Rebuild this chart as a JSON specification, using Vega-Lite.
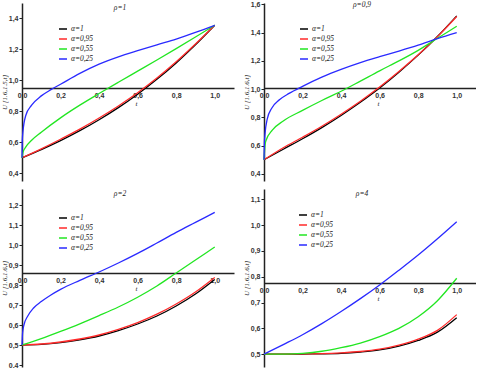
{
  "$schema": "https://vega.github.io/schema/vega-lite/v6.json",
  "padding": {"left": 0, "top": 0, "right": 0, "bottom": 0},
  "background": "white",
  "datasets": {
    "d": [
      {"p": 1, "a": "α=1", "t": 0, "u": 0.5}, {"p": 1, "a": "α=1", "t": 0.1, "u": 0.553}, {"p": 1, "a": "α=1", "t": 0.2, "u": 0.611}, {"p": 1, "a": "α=1", "t": 0.3, "u": 0.675}, {"p": 1, "a": "α=1", "t": 0.4, "u": 0.746}, {"p": 1, "a": "α=1", "t": 0.5, "u": 0.824}, {"p": 1, "a": "α=1", "t": 0.6, "u": 0.911}, {"p": 1, "a": "α=1", "t": 0.7, "u": 1.007}, {"p": 1, "a": "α=1", "t": 0.8, "u": 1.113}, {"p": 1, "a": "α=1", "t": 0.9, "u": 1.23}, {"p": 1, "a": "α=1", "t": 1.0, "u": 1.356},
      {"p": 1, "a": "α=0,95", "t": 0, "u": 0.5}, {"p": 1, "a": "α=0,95", "t": 0.1, "u": 0.558}, {"p": 1, "a": "α=0,95", "t": 0.2, "u": 0.62}, {"p": 1, "a": "α=0,95", "t": 0.3, "u": 0.685}, {"p": 1, "a": "α=0,95", "t": 0.4, "u": 0.757}, {"p": 1, "a": "α=0,95", "t": 0.5, "u": 0.835}, {"p": 1, "a": "α=0,95", "t": 0.6, "u": 0.92}, {"p": 1, "a": "α=0,95", "t": 0.7, "u": 1.015}, {"p": 1, "a": "α=0,95", "t": 0.8, "u": 1.12}, {"p": 1, "a": "α=0,95", "t": 0.9, "u": 1.235}, {"p": 1, "a": "α=0,95", "t": 1.0, "u": 1.356},
      {"p": 1, "a": "α=0,55", "t": 0, "u": 0.5}, {"p": 1, "a": "α=0,55", "t": 0.005, "u": 0.535}, {"p": 1, "a": "α=0,55", "t": 0.02, "u": 0.57}, {"p": 1, "a": "α=0,55", "t": 0.05, "u": 0.613}, {"p": 1, "a": "α=0,55", "t": 0.1, "u": 0.665}, {"p": 1, "a": "α=0,55", "t": 0.2, "u": 0.758}, {"p": 1, "a": "α=0,55", "t": 0.3, "u": 0.84}, {"p": 1, "a": "α=0,55", "t": 0.4, "u": 0.915}, {"p": 1, "a": "α=0,55", "t": 0.5, "u": 0.988}, {"p": 1, "a": "α=0,55", "t": 0.6, "u": 1.06}, {"p": 1, "a": "α=0,55", "t": 0.7, "u": 1.132}, {"p": 1, "a": "α=0,55", "t": 0.8, "u": 1.205}, {"p": 1, "a": "α=0,55", "t": 0.9, "u": 1.28}, {"p": 1, "a": "α=0,55", "t": 1.0, "u": 1.356},
      {"p": 1, "a": "α=0,25", "t": 0, "u": 0.5}, {"p": 1, "a": "α=0,25", "t": 0.001, "u": 0.6}, {"p": 1, "a": "α=0,25", "t": 0.005, "u": 0.67}, {"p": 1, "a": "α=0,25", "t": 0.02, "u": 0.775}, {"p": 1, "a": "α=0,25", "t": 0.05, "u": 0.84}, {"p": 1, "a": "α=0,25", "t": 0.1, "u": 0.9}, {"p": 1, "a": "α=0,25", "t": 0.15, "u": 0.94}, {"p": 1, "a": "α=0,25", "t": 0.2, "u": 0.975}, {"p": 1, "a": "α=0,25", "t": 0.3, "u": 1.045}, {"p": 1, "a": "α=0,25", "t": 0.4, "u": 1.105}, {"p": 1, "a": "α=0,25", "t": 0.5, "u": 1.152}, {"p": 1, "a": "α=0,25", "t": 0.6, "u": 1.192}, {"p": 1, "a": "α=0,25", "t": 0.7, "u": 1.23}, {"p": 1, "a": "α=0,25", "t": 0.8, "u": 1.267}, {"p": 1, "a": "α=0,25", "t": 0.9, "u": 1.31}, {"p": 1, "a": "α=0,25", "t": 1.0, "u": 1.356},

      {"p": 0.9, "a": "α=1", "t": 0, "u": 0.5}, {"p": 0.9, "a": "α=1", "t": 0.1, "u": 0.575}, {"p": 0.9, "a": "α=1", "t": 0.2, "u": 0.649}, {"p": 0.9, "a": "α=1", "t": 0.3, "u": 0.728}, {"p": 0.9, "a": "α=1", "t": 0.4, "u": 0.814}, {"p": 0.9, "a": "α=1", "t": 0.5, "u": 0.907}, {"p": 0.9, "a": "α=1", "t": 0.6, "u": 1.008}, {"p": 0.9, "a": "α=1", "t": 0.7, "u": 1.12}, {"p": 0.9, "a": "α=1", "t": 0.8, "u": 1.241}, {"p": 0.9, "a": "α=1", "t": 0.9, "u": 1.373}, {"p": 0.9, "a": "α=1", "t": 1.0, "u": 1.519},
      {"p": 0.9, "a": "α=0,95", "t": 0, "u": 0.5}, {"p": 0.9, "a": "α=0,95", "t": 0.1, "u": 0.585}, {"p": 0.9, "a": "α=0,95", "t": 0.2, "u": 0.66}, {"p": 0.9, "a": "α=0,95", "t": 0.3, "u": 0.738}, {"p": 0.9, "a": "α=0,95", "t": 0.4, "u": 0.823}, {"p": 0.9, "a": "α=0,95", "t": 0.5, "u": 0.915}, {"p": 0.9, "a": "α=0,95", "t": 0.6, "u": 1.015}, {"p": 0.9, "a": "α=0,95", "t": 0.7, "u": 1.125}, {"p": 0.9, "a": "α=0,95", "t": 0.8, "u": 1.243}, {"p": 0.9, "a": "α=0,95", "t": 0.9, "u": 1.372}, {"p": 0.9, "a": "α=0,95", "t": 1.0, "u": 1.515},
      {"p": 0.9, "a": "α=0,55", "t": 0, "u": 0.5}, {"p": 0.9, "a": "α=0,55", "t": 0.005, "u": 0.6}, {"p": 0.9, "a": "α=0,55", "t": 0.01, "u": 0.635}, {"p": 0.9, "a": "α=0,55", "t": 0.043, "u": 0.71}, {"p": 0.9, "a": "α=0,55", "t": 0.1, "u": 0.775}, {"p": 0.9, "a": "α=0,55", "t": 0.2, "u": 0.85}, {"p": 0.9, "a": "α=0,55", "t": 0.3, "u": 0.92}, {"p": 0.9, "a": "α=0,55", "t": 0.4, "u": 0.985}, {"p": 0.9, "a": "α=0,55", "t": 0.5, "u": 1.057}, {"p": 0.9, "a": "α=0,55", "t": 0.6, "u": 1.13}, {"p": 0.9, "a": "α=0,55", "t": 0.7, "u": 1.2}, {"p": 0.9, "a": "α=0,55", "t": 0.8, "u": 1.275}, {"p": 0.9, "a": "α=0,55", "t": 0.9, "u": 1.36}, {"p": 0.9, "a": "α=0,55", "t": 1.0, "u": 1.445},
      {"p": 0.9, "a": "α=0,25", "t": 0, "u": 0.5}, {"p": 0.9, "a": "α=0,25", "t": 0.002, "u": 0.62}, {"p": 0.9, "a": "α=0,25", "t": 0.005, "u": 0.68}, {"p": 0.9, "a": "α=0,25", "t": 0.017, "u": 0.79}, {"p": 0.9, "a": "α=0,25", "t": 0.04, "u": 0.865}, {"p": 0.9, "a": "α=0,25", "t": 0.08, "u": 0.925}, {"p": 0.9, "a": "α=0,25", "t": 0.13, "u": 0.97}, {"p": 0.9, "a": "α=0,25", "t": 0.2, "u": 1.02}, {"p": 0.9, "a": "α=0,25", "t": 0.3, "u": 1.085}, {"p": 0.9, "a": "α=0,25", "t": 0.4, "u": 1.14}, {"p": 0.9, "a": "α=0,25", "t": 0.5, "u": 1.188}, {"p": 0.9, "a": "α=0,25", "t": 0.6, "u": 1.23}, {"p": 0.9, "a": "α=0,25", "t": 0.7, "u": 1.27}, {"p": 0.9, "a": "α=0,25", "t": 0.8, "u": 1.312}, {"p": 0.9, "a": "α=0,25", "t": 0.9, "u": 1.358}, {"p": 0.9, "a": "α=0,25", "t": 1.0, "u": 1.4},

      {"p": 2, "a": "α=1", "t": 0, "u": 0.5}, {"p": 2, "a": "α=1", "t": 0.1, "u": 0.503}, {"p": 2, "a": "α=1", "t": 0.2, "u": 0.512}, {"p": 2, "a": "α=1", "t": 0.3, "u": 0.526}, {"p": 2, "a": "α=1", "t": 0.4, "u": 0.545}, {"p": 2, "a": "α=1", "t": 0.5, "u": 0.572}, {"p": 2, "a": "α=1", "t": 0.6, "u": 0.605}, {"p": 2, "a": "α=1", "t": 0.7, "u": 0.645}, {"p": 2, "a": "α=1", "t": 0.8, "u": 0.695}, {"p": 2, "a": "α=1", "t": 0.9, "u": 0.755}, {"p": 2, "a": "α=1", "t": 1.0, "u": 0.828},
      {"p": 2, "a": "α=0,95", "t": 0, "u": 0.5}, {"p": 2, "a": "α=0,95", "t": 0.1, "u": 0.505}, {"p": 2, "a": "α=0,95", "t": 0.2, "u": 0.515}, {"p": 2, "a": "α=0,95", "t": 0.3, "u": 0.53}, {"p": 2, "a": "α=0,95", "t": 0.4, "u": 0.55}, {"p": 2, "a": "α=0,95", "t": 0.5, "u": 0.578}, {"p": 2, "a": "α=0,95", "t": 0.6, "u": 0.612}, {"p": 2, "a": "α=0,95", "t": 0.7, "u": 0.654}, {"p": 2, "a": "α=0,95", "t": 0.8, "u": 0.705}, {"p": 2, "a": "α=0,95", "t": 0.9, "u": 0.765}, {"p": 2, "a": "α=0,95", "t": 1.0, "u": 0.838},
      {"p": 2, "a": "α=0,55", "t": 0, "u": 0.5}, {"p": 2, "a": "α=0,55", "t": 0.1, "u": 0.532}, {"p": 2, "a": "α=0,55", "t": 0.2, "u": 0.568}, {"p": 2, "a": "α=0,55", "t": 0.3, "u": 0.606}, {"p": 2, "a": "α=0,55", "t": 0.4, "u": 0.647}, {"p": 2, "a": "α=0,55", "t": 0.5, "u": 0.69}, {"p": 2, "a": "α=0,55", "t": 0.6, "u": 0.739}, {"p": 2, "a": "α=0,55", "t": 0.7, "u": 0.795}, {"p": 2, "a": "α=0,55", "t": 0.8, "u": 0.86}, {"p": 2, "a": "α=0,55", "t": 0.9, "u": 0.925}, {"p": 2, "a": "α=0,55", "t": 1.0, "u": 0.99},
      {"p": 2, "a": "α=0,25", "t": 0, "u": 0.5}, {"p": 2, "a": "α=0,25", "t": 0.003, "u": 0.56}, {"p": 2, "a": "α=0,25", "t": 0.01, "u": 0.6}, {"p": 2, "a": "α=0,25", "t": 0.03, "u": 0.645}, {"p": 2, "a": "α=0,25", "t": 0.06, "u": 0.685}, {"p": 2, "a": "α=0,25", "t": 0.1, "u": 0.717}, {"p": 2, "a": "α=0,25", "t": 0.15, "u": 0.75}, {"p": 2, "a": "α=0,25", "t": 0.2, "u": 0.778}, {"p": 2, "a": "α=0,25", "t": 0.3, "u": 0.823}, {"p": 2, "a": "α=0,25", "t": 0.4, "u": 0.865}, {"p": 2, "a": "α=0,25", "t": 0.5, "u": 0.91}, {"p": 2, "a": "α=0,25", "t": 0.6, "u": 0.958}, {"p": 2, "a": "α=0,25", "t": 0.7, "u": 1.01}, {"p": 2, "a": "α=0,25", "t": 0.8, "u": 1.063}, {"p": 2, "a": "α=0,25", "t": 0.9, "u": 1.113}, {"p": 2, "a": "α=0,25", "t": 1.0, "u": 1.163},

      {"p": 4, "a": "α=1", "t": 0, "u": 0.5}, {"p": 4, "a": "α=1", "t": 0.1, "u": 0.5}, {"p": 4, "a": "α=1", "t": 0.2, "u": 0.5002}, {"p": 4, "a": "α=1", "t": 0.3, "u": 0.501}, {"p": 4, "a": "α=1", "t": 0.4, "u": 0.503}, {"p": 4, "a": "α=1", "t": 0.5, "u": 0.508}, {"p": 4, "a": "α=1", "t": 0.6, "u": 0.516}, {"p": 4, "a": "α=1", "t": 0.7, "u": 0.531}, {"p": 4, "a": "α=1", "t": 0.8, "u": 0.553}, {"p": 4, "a": "α=1", "t": 0.9, "u": 0.585}, {"p": 4, "a": "α=1", "t": 1.0, "u": 0.641},
      {"p": 4, "a": "α=0,95", "t": 0, "u": 0.5}, {"p": 4, "a": "α=0,95", "t": 0.1, "u": 0.5}, {"p": 4, "a": "α=0,95", "t": 0.2, "u": 0.501}, {"p": 4, "a": "α=0,95", "t": 0.3, "u": 0.502}, {"p": 4, "a": "α=0,95", "t": 0.4, "u": 0.505}, {"p": 4, "a": "α=0,95", "t": 0.5, "u": 0.51}, {"p": 4, "a": "α=0,95", "t": 0.6, "u": 0.519}, {"p": 4, "a": "α=0,95", "t": 0.7, "u": 0.535}, {"p": 4, "a": "α=0,95", "t": 0.8, "u": 0.558}, {"p": 4, "a": "α=0,95", "t": 0.9, "u": 0.592}, {"p": 4, "a": "α=0,95", "t": 1.0, "u": 0.653},
      {"p": 4, "a": "α=0,55", "t": 0, "u": 0.5}, {"p": 4, "a": "α=0,55", "t": 0.1, "u": 0.5}, {"p": 4, "a": "α=0,55", "t": 0.2, "u": 0.503}, {"p": 4, "a": "α=0,55", "t": 0.3, "u": 0.511}, {"p": 4, "a": "α=0,55", "t": 0.4, "u": 0.525}, {"p": 4, "a": "α=0,55", "t": 0.5, "u": 0.543}, {"p": 4, "a": "α=0,55", "t": 0.6, "u": 0.568}, {"p": 4, "a": "α=0,55", "t": 0.7, "u": 0.6}, {"p": 4, "a": "α=0,55", "t": 0.8, "u": 0.645}, {"p": 4, "a": "α=0,55", "t": 0.9, "u": 0.707}, {"p": 4, "a": "α=0,55", "t": 1.0, "u": 0.794},
      {"p": 4, "a": "α=0,25", "t": 0, "u": 0.5}, {"p": 4, "a": "α=0,25", "t": 0.1, "u": 0.537}, {"p": 4, "a": "α=0,25", "t": 0.2, "u": 0.575}, {"p": 4, "a": "α=0,25", "t": 0.3, "u": 0.618}, {"p": 4, "a": "α=0,25", "t": 0.4, "u": 0.665}, {"p": 4, "a": "α=0,25", "t": 0.5, "u": 0.715}, {"p": 4, "a": "α=0,25", "t": 0.6, "u": 0.768}, {"p": 4, "a": "α=0,25", "t": 0.7, "u": 0.825}, {"p": 4, "a": "α=0,25", "t": 0.8, "u": 0.884}, {"p": 4, "a": "α=0,25", "t": 0.9, "u": 0.947}, {"p": 4, "a": "α=0,25", "t": 1.0, "u": 1.013}
    ]
  },
  "data": {"name": "d"},
  "columns": 2,
  "spacing": {"row": 8, "column": 8},
  "resolve": {"scale": {"color": "independent", "x": "independent", "y": "independent"}, "legend": {"color": "independent"}, "axis": {"x": "independent", "y": "independent"}},
  "concat": [
    {
      "width": 212, "height": 178,
      "title": {"text": "ρ=1"},
      "transform": [{"filter": "datum.p == 1"}],
      "mark": {"type": "line", "interpolate": "monotone", "strokeWidth": 1.3},
      "encoding": {
        "x": {"field": "t", "type": "quantitative", "scale": {"domain": [0, 1.1], "nice": false, "zero": false},
              "axis": {"values": [0, 0.2, 0.4, 0.6, 0.8, 1.0], "offset": -93, "title": "t", "titleX": 114}},
        "y": {"field": "u", "type": "quantitative", "scale": {"domain": [0.35, 1.5], "nice": false, "zero": false},
              "axis": {"values": [0.4, 0.6, 0.8, 1.0, 1.2, 1.4], "title": "U [1.6,1.5,t]"}},
        "color": {"field": "a", "type": "nominal", "scale": {"domain": ["α=1", "α=0,95", "α=0,55", "α=0,25"], "range": ["#000000", "#ff2a2a", "#22e622", "#2a2aff"]},
                  "legend": {"legendX": 36, "legendY": 21}}
      }
    },
    {
      "width": 212, "height": 178,
      "title": {"text": "ρ=0,9"},
      "transform": [{"filter": "datum.p == 0.9"}],
      "mark": {"type": "line", "interpolate": "monotone", "strokeWidth": 1.3},
      "encoding": {
        "x": {"field": "t", "type": "quantitative", "scale": {"domain": [0, 1.1], "nice": false, "zero": false},
              "axis": {"values": [0, 0.2, 0.4, 0.6, 0.8, 1.0], "offset": -93, "title": "t", "titleX": 114}},
        "y": {"field": "u", "type": "quantitative", "scale": {"domain": [0.35, 1.61], "nice": false, "zero": false},
              "axis": {"values": [0.4, 0.6, 0.8, 1.0, 1.2, 1.4, 1.6], "title": "U [1.6,1.6,t]"}},
        "color": {"field": "a", "type": "nominal", "scale": {"domain": ["α=1", "α=0,95", "α=0,55", "α=0,25"], "range": ["#000000", "#ff2a2a", "#22e622", "#2a2aff"]},
                  "legend": {"legendX": 35, "legendY": 21}}
      }
    },
    {
      "width": 212, "height": 178,
      "title": {"text": "ρ=2"},
      "transform": [{"filter": "datum.p == 2"}],
      "mark": {"type": "line", "interpolate": "monotone", "strokeWidth": 1.3},
      "encoding": {
        "x": {"field": "t", "type": "quantitative", "scale": {"domain": [0, 1.1], "nice": false, "zero": false},
              "axis": {"values": [0, 0.2, 0.4, 0.6, 0.8, 1.0], "offset": -94, "title": "t", "titleX": 114}},
        "y": {"field": "u", "type": "quantitative", "scale": {"domain": [0.39, 1.28], "nice": false, "zero": false},
              "axis": {"values": [0.4, 0.5, 0.6, 0.7, 0.8, 0.9, 1.0, 1.1, 1.2], "title": "U [1.6,1.6,t]"}},
        "color": {"field": "a", "type": "nominal", "scale": {"domain": ["α=1", "α=0,95", "α=0,55", "α=0,25"], "range": ["#000000", "#ff2a2a", "#22e622", "#2a2aff"]},
                  "legend": {"legendX": 36, "legendY": 24}}
      }
    },
    {
      "width": 212, "height": 178,
      "title": {"text": "ρ=4"},
      "transform": [{"filter": "datum.p == 4"}],
      "mark": {"type": "line", "interpolate": "monotone", "strokeWidth": 1.3},
      "encoding": {
        "x": {"field": "t", "type": "quantitative", "scale": {"domain": [0, 1.1], "nice": false, "zero": false},
              "axis": {"values": [0, 0.2, 0.4, 0.6, 0.8, 1.0], "offset": -84, "title": "t", "titleX": 114}},
        "y": {"field": "u", "type": "quantitative", "scale": {"domain": [0.45, 1.14], "nice": false, "zero": false},
              "axis": {"values": [0.5, 0.6, 0.7, 0.8, 0.9, 1.0, 1.1], "title": "U [1.6,1.6,t]"}},
        "color": {"field": "a", "type": "nominal", "scale": {"domain": ["α=1", "α=0,95", "α=0,55", "α=0,25"], "range": ["#000000", "#ff2a2a", "#22e622", "#2a2aff"]},
                  "legend": {"legendX": 34, "legendY": 21}}
      }
    }
  ],
  "config": {
    "view": {"stroke": null},
    "title": {"font": "Liberation Serif", "fontStyle": "italic", "fontWeight": "normal", "fontSize": 7.5, "color": "#222", "offset": -8, "anchor": "middle", "frame": "group", "dx": -8},
    "axis": {
      "domainColor": "#222", "domainWidth": 1.5, "grid": false,
      "labelFont": "Liberation Sans", "labelFontWeight": "bold", "labelFontSize": 7, "labelColor": "#333",
      "labelExpr": "replace(format(datum.value, '.1f'), '.', ',')",
      "labelFlush": false, "labelOverlap": false,
      "titleFont": "Liberation Serif", "titleFontStyle": "italic", "titleFontWeight": "normal", "titleFontSize": 7, "titleColor": "#222"
    },
    "axisX": {"ticks": false, "labelPadding": 3, "titlePadding": 1},
    "axisY": {"ticks": true, "tickSize": 3, "tickColor": "#222", "labelPadding": 1, "titlePadding": 1},
    "legend": {
      "orient": "none", "title": null, "symbolType": "stroke", "symbolStrokeWidth": 1.5, "symbolSize": 64,
      "labelFont": "Liberation Serif", "labelFontStyle": "italic", "labelFontSize": 7.5, "labelColor": "#222",
      "rowPadding": 1, "labelOffset": 3, "padding": 0
    }
  }
}
